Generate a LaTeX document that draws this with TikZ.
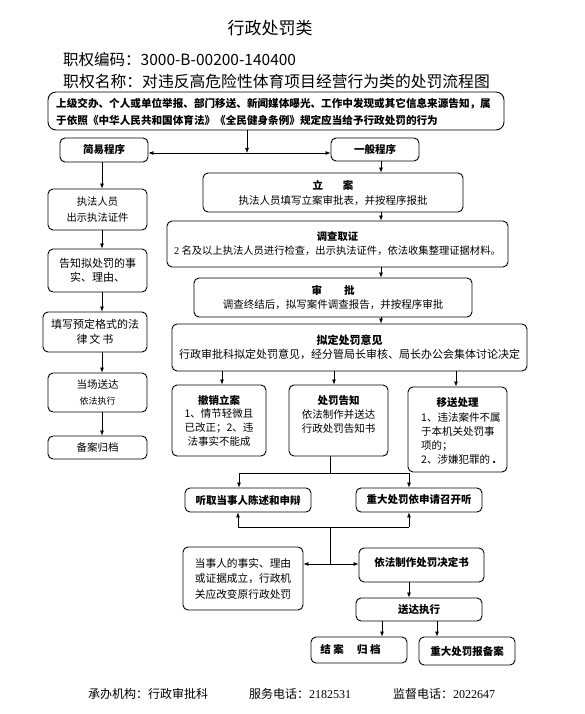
\documentclass[tikz,border=0pt]{standalone}
\usepackage{fontspec}
\setmainfont{Noto Sans CJK SC}
\newfontfamily\serdig{Liberation Serif}
\usetikzlibrary{arrows.meta}
\newcommand\myfs[2]{\fontsize{#1}{#2}\selectfont}
\begin{document}
\begin{tikzpicture}[x=1pt,y=-1pt,
  box/.style={draw, rounded corners=5pt, line width=0.9pt, inner sep=0pt, align=center},
  txt/.style={inner sep=0pt, align=center},
  arr/.style={draw, line width=0.7pt, -{Latex[length=5pt,width=4pt]}},
  ln/.style={draw, line width=0.7pt}]
\useasboundingbox (0,0) rectangle (584,714);

% header
\node[txt, font=\myfs{17}{20}] (title) at (270,28) {行政处罚类};
\node[txt, anchor=west, font=\myfs{15.5}{18}] (code) at (63,60) {职权编码：3000-B-00200-140400};
\node[txt, anchor=west, font=\myfs{15.8}{18}] (name) at (63,81) {职权名称：对违反高危险性体育项目经营行为类的处罚流程图};

% source box
\node[box, rounded corners=8pt, minimum width=456pt, minimum height=38pt] (src) at (276,111) {};
\node[txt, anchor=west, align=left, font=\myfs{10.6}{17}\bfseries] (srct) at (56,111.5) {上级交办、个人或单位举报、部门移送、新闻媒体曝光、工作中发现或其它信息来源告知，属\\于依照《中华人民共和国体育法》《全民健身条例》规定应当给予行政处罚的行为};

\coordinate (j1) at (247,153);
\node[box, minimum width=88pt, minimum height=24pt, font=\myfs{10.5}{13}\bfseries] (simple) at (104,150) {简易程序};
\node[box, minimum width=88pt, minimum height=23pt, font=\myfs{10.5}{13}\bfseries] (general) at (375,149.5) {一般程序};
\draw[arr] (src.south -| j1) -- (j1);
\draw[arr] (j1) -- (simple.east |- j1);
\draw[arr] (j1) -- (general.west |- j1);

% main column
\coordinate (mc) at (381,0);
\node[box, minimum width=260pt, minimum height=39pt, font=\myfs{10.5}{15}] (lian) at (333,192.5) {\textbf{立\hspace{20pt}案}\\执法人员填写立案审批表，并按程序报批};
\node[box, minimum width=341pt, minimum height=46pt, font=\myfs{10.3}{14}] (diaocha) at (337.5,244) {\textbf{调查取证}\\{\serdig 2} 名及以上执法人员进行检查，出示执法证件，依法收集整理证据材料。};
\node[box, minimum width=278pt, minimum height=39pt, font=\myfs{10.5}{13.5}] (shenpi) at (333,297.5) {\textbf{审\hspace{22pt}批}\\调查终结后，拟写案件调查报告，并按程序审批};
\node[box, minimum width=355pt, minimum height=47pt, font=\myfs{11}{14}] (niding) at (349.5,347.5) {\textbf{拟定处罚意见}\\行政审批科拟定处罚意见，经分管局长审核、局长办公会集体讨论决定};
\draw[arr] (general.south -| mc) -- (lian.north -| mc);
\draw[arr] (lian.south -| mc) -- (diaocha.north -| mc);
\draw[arr] (diaocha.south -| mc) -- (shenpi.north -| mc);
\draw[arr] (shenpi.south -| mc) -- (niding.north -| mc);

% third row
\node[box, minimum width=94pt, minimum height=71pt, font=\myfs{10.5}{13.7}] (chexiao) at (219,420.5) {\textbf{撤销立案}\\1、情节轻微且\\已改正；2、违\\法事实不能成};
\node[box, minimum width=99pt, minimum height=71pt] (gaozhi) at (338.5,420.5) {};
\node[txt, font=\myfs{10.5}{14}] (gaozhit) at (338.5,414.5) {\textbf{处罚告知}\\依法制作并送达\\行政处罚告知书};
\node[box, minimum width=99pt, minimum height=85pt] (yisong) at (457.5,429.5) {};
\node[txt, font=\myfs{10.5}{14}\bfseries] (yisongh) at (457.5,403) {移送处理};
\node[txt, anchor=north west, align=left, font=\myfs{10.5}{14}] (yisongt) at (421,412.5) {1、违法案件不属\\于本机关处罚事\\项的；\\2、涉嫌犯罪的 \textbf{.}};
\coordinate (c1) at (222,0);
\coordinate (c2) at (334,0);
\coordinate (c3) at (456,0);
\draw[arr] (niding.south -| c1) -- (chexiao.north -| c1);
\draw[arr] (niding.south -| c2) -- (gaozhi.north -| c2);
\draw[arr] (niding.south -| c3) -- (yisong.north -| c3);

% hearing row
\node[box, minimum width=126pt, minimum height=24pt, font=\myfs{10.5}{13}\bfseries] (tingqu) at (248,500) {听取当事人陈述和申辩};
\node[box, minimum width=126pt, minimum height=24pt, font=\myfs{10.5}{13}\bfseries] (zhongda) at (419,500) {重大处罚依申请召开听};
\coordinate (j2) at (330,473);
\coordinate (j2l) at (239,473);
\coordinate (j2r) at (409,473);
\draw[ln] (gaozhi.south -| j2) -- (j2);
\draw[ln] (j2l) -- (j2r);
\draw[arr] (j2l) -- (tingqu.north -| j2l);
\draw[arr] (j2r) -- (zhongda.north -| j2r);

% lower part
\node[box, minimum width=120pt, minimum height=63pt, font=\myfs{10.7}{15.5}] (dangshi) at (243,578.5) {当事人的事实、理由\\或证据成立，行政机\\关应改变原行政处罚};
\node[box, minimum width=125pt, minimum height=34pt] (yifa) at (421.5,565) {};
\node[txt, font=\myfs{10.5}{13}\bfseries] (yifat) at (421.5,562) {依法制作处罚决定书};
\coordinate (j3) at (330,527);
\coordinate (j3l) at (238,527);
\coordinate (j3r) at (409,527);
\coordinate (j4) at (330,564);
\draw[arr] (j3l) -- (tingqu.south -| j3l);
\draw[ln] (j3l) -- (j3r);
\draw[arr] (j3r) -- (zhongda.south -| j3r);
\draw[ln] (j3) -- (j4);
\draw[arr] (j4) -- (dangshi.east |- j4);
\draw[arr] (j4) -- (yifa.west |- j4);

\node[box, minimum width=126pt, minimum height=23pt, font=\myfs{10.5}{13}\bfseries] (songda) at (419,609.5) {送达执行};
\coordinate (k1) at (409,0);
\draw[arr] (yifa.south -| k1) -- (songda.north -| k1);
\node[box, minimum width=96pt, minimum height=26pt] (jiean) at (359,650) {};
\node[txt, font=\myfs{10.5}{13}\bfseries] (jieant) at (350.5,650) {结\hspace{2.5pt}案\hspace{13.5pt}归\hspace{2.5pt}档};
\node[box, minimum width=96pt, minimum height=28pt, font=\myfs{10.5}{13}\bfseries] (baobei) at (467,651) {重大处罚报备案};
\coordinate (k2) at (382,0);
\coordinate (k3) at (437,0);
\draw[arr] (songda.south -| k2) -- (jiean.north -| k2);
\draw[arr] (songda.south -| k3) -- (baobei.north -| k3);

% left column
\coordinate (lc) at (102,0);
\node[box, minimum width=99pt, minimum height=41pt, font=\myfs{10.3}{16}] (zhifa) at (97.5,209.5) {执法人员\\出示执法证件};
\node[box, minimum width=99pt, minimum height=43pt, font=\myfs{11}{13.5}] (gaozhiL) at (97.5,270.5) {告知拟处罚的事\\实、理由、};
\node[box, minimum width=104pt, minimum height=40pt, font=\myfs{11}{15}] (tianxie) at (95,332) {填写预定格式的法\\律\hspace{2pt}文\hspace{2pt}书};
\node[box, minimum width=99pt, minimum height=39pt, font=\myfs{10.5}{16}] (dangchang) at (97.5,392.5) {当场送达\\{\myfs{9}{16}依法执行}};
\node[box, minimum width=99pt, minimum height=23pt, font=\myfs{10.5}{13}] (beian) at (97.5,447.5) {备案归档};
\draw[arr] (simple.south -| lc) -- (zhifa.north -| lc);
\draw[arr] (zhifa.south -| lc) -- (gaozhiL.north -| lc);
\draw[arr] (gaozhiL.south -| lc) -- (tianxie.north -| lc);
\draw[arr] (tianxie.south -| lc) -- (dangchang.north -| lc);
\draw[arr] (dangchang.south -| lc) -- (beian.north -| lc);

% footer
\node[txt, anchor=west, font=\myfs{12}{14}] (f1) at (88,694) {承办机构：行政审批科};
\node[txt, anchor=west, font=\myfs{12}{14}] (f2) at (249,694) {服务电话：{\serdig 2182531}};
\node[txt, anchor=west, font=\myfs{12}{14}] (f3) at (393,694) {监督电话：{\serdig 2022647}};
\end{tikzpicture}
\end{document}
